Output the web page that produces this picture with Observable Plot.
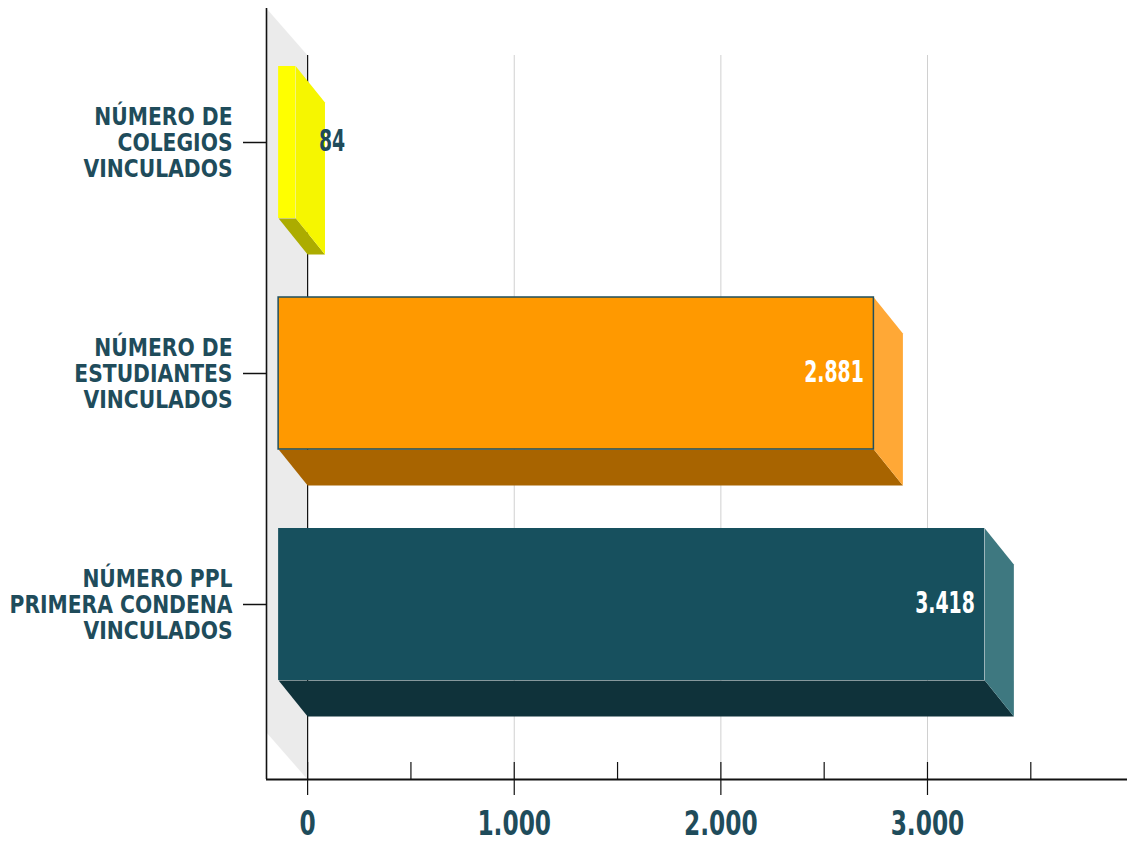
<!DOCTYPE html>
<html><head><meta charset="utf-8">
<script src="https://cdn.jsdelivr.net/npm/d3@7"></script>
<script src="https://cdn.jsdelivr.net/npm/@observablehq/plot@0.6"></script>
<style>html,body{margin:0;padding:0;background:#fff;} svg{display:block}</style>
</head><body><div id="chart"></div>
<script>
// ---- data ----
const categories = ["NÚMERO DE\nCOLEGIOS\nVINCULADOS", "NÚMERO DE\nESTUDIANTES\nVINCULADOS", "NÚMERO PPL\nPRIMERA CONDENA\nVINCULADOS"];
const values = [84, 2881, 3418];
const xTicksMajor = [0, 1000, 2000, 3000];
const xTicksMinor = [500, 1500, 2500, 3500];

// ---- styling ----
const frontColors = ["#ffff00", "#ff9900", "#17505e"];
const sideColors = ["#f6f600", "#ffa836", "#3e7880"];
const bottomColors = ["#acac00", "#a86400", "#0f323a"];
const frontStrokes = ["none", "#1f4f5e", "none"];
const textColor = "#1f4c5b";
const FONT = "'Liberation Sans Narrow', 'DejaVu Sans Condensed', 'Arial Narrow', sans-serif";

// ---- layout ----
const W = 1127, H = 843;
const mL = 266, mR = 0, mT = 8, mB = 64;
const xDomain = [-199, 3968];
const pxPerX = (W - mL - mR) / (xDomain[1] - xDomain[0]);
const pxPerY = 231;
const firstCenter = 142;
const yTop = -(firstCenter - mT) / pxPerY;
const yBottom = (H - mB - firstCenter) / pxPerY;
const ddx = 29 / pxPerX, ddy = 36 / pxPerY, hh = 76 / pxPerY;
const wallDy = 47 / pxPerY;
const tickUp = 17 / pxPerY;

const fmt = d3.formatLocale({thousands: ".", decimal: ",", grouping: [3], currency: ["", ""]}).format(",d");

const bars = values.map((v, i) => ({i, v}));
const bottomPts = bars.flatMap(d => [
  {id: d.i, x: -ddx, y: d.i + hh},
  {id: d.i, x: d.v - ddx, y: d.i + hh},
  {id: d.i, x: d.v, y: d.i + hh + ddy},
  {id: d.i, x: 0, y: d.i + hh + ddy}
]);
const sidePts = bars.flatMap(d => [
  {id: d.i, x: d.v - ddx, y: d.i - hh},
  {id: d.i, x: d.v, y: d.i - hh + ddy},
  {id: d.i, x: d.v, y: d.i + hh + ddy},
  {id: d.i, x: d.v - ddx, y: d.i + hh}
]);
const wallPts = [
  {x: xDomain[0], y: yTop},
  {x: 0, y: yTop + wallDy},
  {x: 0, y: yBottom},
  {x: xDomain[0], y: yBottom - wallDy}
];

const chart = Plot.plot({
  width: W, height: H,
  marginLeft: mL, marginRight: mR, marginTop: mT, marginBottom: mB,
  style: {fontFamily: FONT, background: "#fff"},
  x: {domain: xDomain},
  y: {domain: [yTop, yBottom], range: [mT, H - mB]},
  color: {type: "identity"},
  marks: [
    Plot.line(wallPts, {x: "x", y: "y", fill: "#ebebeb", stroke: "none", curve: "linear-closed"}),
    Plot.ruleX(xTicksMajor.slice(1), {x: d => d, y1: yTop + wallDy, y2: yBottom, stroke: "#d0d0d0", strokeWidth: 1}),
    Plot.ruleX([0], {x: d => d, y1: yTop + wallDy, y2: yBottom, stroke: "#111", strokeWidth: 1.2}),
    Plot.line(bottomPts, {x: "x", y: "y", z: "id", fill: d => bottomColors[d.id], stroke: "none", curve: "linear-closed"}),
    Plot.line(sidePts, {x: "x", y: "y", z: "id", fill: d => sideColors[d.id], stroke: "none", curve: "linear-closed"}),
    Plot.rect(bars, {x1: d => -ddx, x2: d => d.v - ddx, y1: d => d.i - hh, y2: d => d.i + hh,
      fill: d => frontColors[d.i], stroke: d => frontStrokes[d.i], strokeWidth: 1.5}),
    Plot.text(bars.filter(d => d.v >= 500), {x: "v", y: "i", text: d => fmt(d.v), textAnchor: "end",
      dx: -39, dy: -1, fill: "#fff", fontSize: 30, fontWeight: "bold", fontFamily: FONT}),
    Plot.text(bars.filter(d => d.v < 500), {x: "v", y: "i", text: d => fmt(d.v), textAnchor: "start",
      dx: -6, dy: -1, fill: textColor, fontSize: 30, fontWeight: "bold", fontFamily: FONT}),
    Plot.ruleX(xTicksMajor.concat(xTicksMinor), {x: d => d, y1: yBottom - tickUp, y2: yBottom, stroke: "#111", strokeWidth: 1.2}),
    Plot.ruleY([yBottom], {stroke: "#111", strokeWidth: 2.2}),
    Plot.ruleX([xDomain[0]], {stroke: "#111", strokeWidth: 1.6}),
    Plot.axisX({ticks: xTicksMajor, tickSize: 16, tickPadding: 16, tickFormat: fmt, label: null,
      fontSize: 33, fontWeight: "bold", fill: textColor, stroke: "#111", strokeWidth: 1.2, fontFamily: FONT}),
    Plot.axisY({ticks: [0, 1, 2], tickSize: 23, tickPadding: 11, tickFormat: i => categories[i], label: null,
      fontSize: 24, fontWeight: "bold", fill: textColor, stroke: "#111", strokeWidth: 1.5, lineHeight: 1.1, fontFamily: FONT})
  ]
});
document.getElementById("chart").appendChild(chart);

// horizontally condense text (narrow typeface look), scaling about each text's anchor
const condense = (sel, sx) => chart.querySelectorAll(sel).forEach(el => {
  const t = el.getAttribute("transform") || "";
  el.setAttribute("transform", t + ` scale(${sx},1)`);
});
condense('g[aria-label="y-axis tick label"] text', 0.94);
condense('g[aria-label="x-axis tick label"] text', 0.785);
condense('g[aria-label="text"] text', 0.7);
</script>
</body></html>
